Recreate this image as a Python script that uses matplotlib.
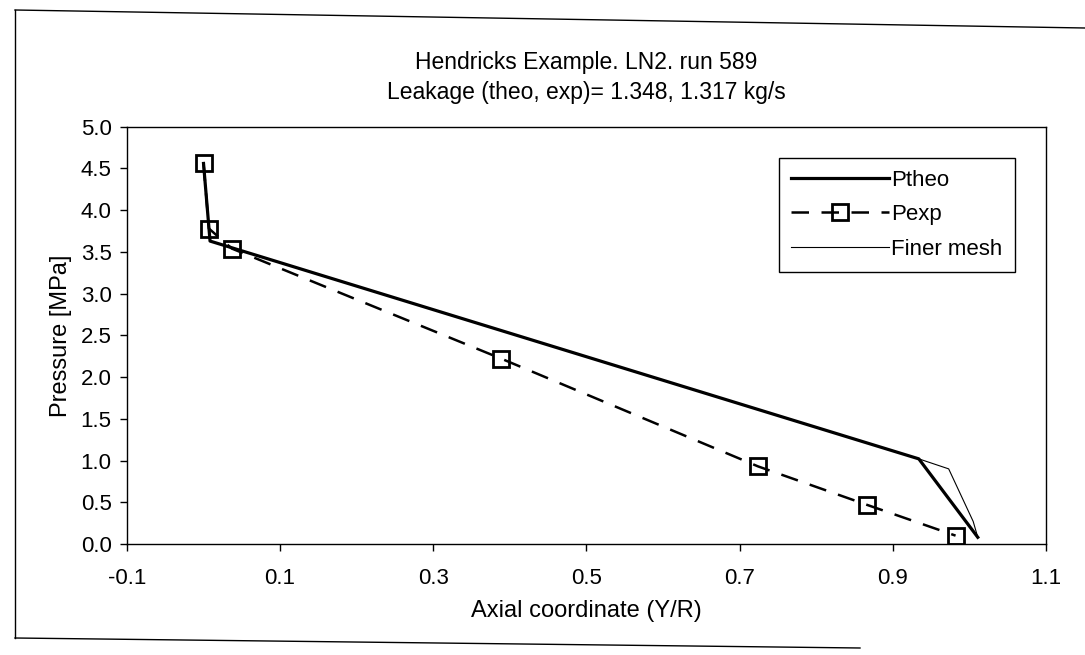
import matplotlib
matplotlib.use("Agg")
import matplotlib.pyplot as plt
from matplotlib.lines import Line2D

plt.rcParams.update({
    "font.family": ["Liberation Sans", "DejaVu Sans"],
    "font.size": 16,
})

# Data
x_theo = [0.0, 0.0085, 0.934, 1.011]
p_theo = [4.56, 3.63, 1.02, 0.08]

x_exp = [0.0, 0.007, 0.037, 0.389, 0.724, 0.866, 0.982]
p_exp = [4.56, 3.78, 3.54, 2.22, 0.93, 0.47, 0.10]

x_fine = [0.0, 0.0085, 0.934, 0.973, 1.005, 1.011]
p_fine = [4.56, 3.63, 1.02, 0.90, 0.27, 0.08]

x_ticks = [-0.1, 0.1, 0.3, 0.5, 0.7, 0.9, 1.1]
y_ticks = [0.0, 0.5, 1.0, 1.5, 2.0, 2.5, 3.0, 3.5, 4.0, 4.5, 5.0]

title = "Hendricks Example. LN2. run 589\nLeakage (theo, exp)= 1.348, 1.317 kg/s"

fig = plt.figure(figsize=(10.85, 6.55), dpi=100)
ax = fig.add_axes([0.117, 0.1695, 0.847, 0.637])

ax.plot(x_fine, p_fine, color="black", linewidth=0.8, label="Finer mesh", zorder=2)
ax.plot(x_theo, p_theo, color="black", linewidth=2.3, label="Ptheo", zorder=3)
ax.plot(x_exp, p_exp, color="black", linewidth=1.8, linestyle=(0, (7, 5)),
        marker="s", markersize=11, markerfacecolor="none",
        markeredgewidth=2.0, markeredgecolor="black", label="Pexp", zorder=4)

ax.set_xlim(-0.1, 1.1)
ax.set_ylim(0, 5.0)
ax.set_xticks(x_ticks)
ax.set_yticks(y_ticks)
ax.set_xticklabels([f"{v:.1f}" for v in x_ticks])
ax.set_yticklabels([f"{v:.1f}" for v in y_ticks])
ax.tick_params(direction="out", length=5, width=1, labelsize=16)
ax.tick_params(axis="x", pad=12)
ax.tick_params(axis="y", pad=6)
for s in ax.spines.values():
    s.set_linewidth(1.0)
    s.set_color("black")

ax.set_xlabel("Axial coordinate (Y/R)", fontsize=17, labelpad=8)
ax.set_ylabel("Pressure [MPa]", fontsize=17, labelpad=6)
ax.set_title(title, fontsize=16.5, linespacing=1.4, pad=20)

handles, labels = ax.get_legend_handles_labels()
order = [1, 2, 0]
leg = ax.legend([handles[i] for i in order], [labels[i] for i in order],
                loc="upper right", bbox_to_anchor=(0.966, 0.926),
                fancybox=False, shadow=False, edgecolor="black", framealpha=1,
                handlelength=4.4, handletextpad=0.1, labelspacing=0.6,
                borderpad=0.55, borderaxespad=0, fontsize=16)
leg.get_frame().set_linewidth(1.0)

# outer chart frame (as scanned)
W, H = 1085, 655
for (x0, y0), (x1, y1) in [((15, 10), (1085, 28)), ((15, 10), (15, 638)),
                           ((15, 638), (860, 648))]:
    fig.add_artist(Line2D([x0 / W, x1 / W], [1 - y0 / H, 1 - y1 / H],
                          color="black", linewidth=1.0, transform=fig.transFigure))

fig.savefig("out.png", dpi=100, facecolor="white")
